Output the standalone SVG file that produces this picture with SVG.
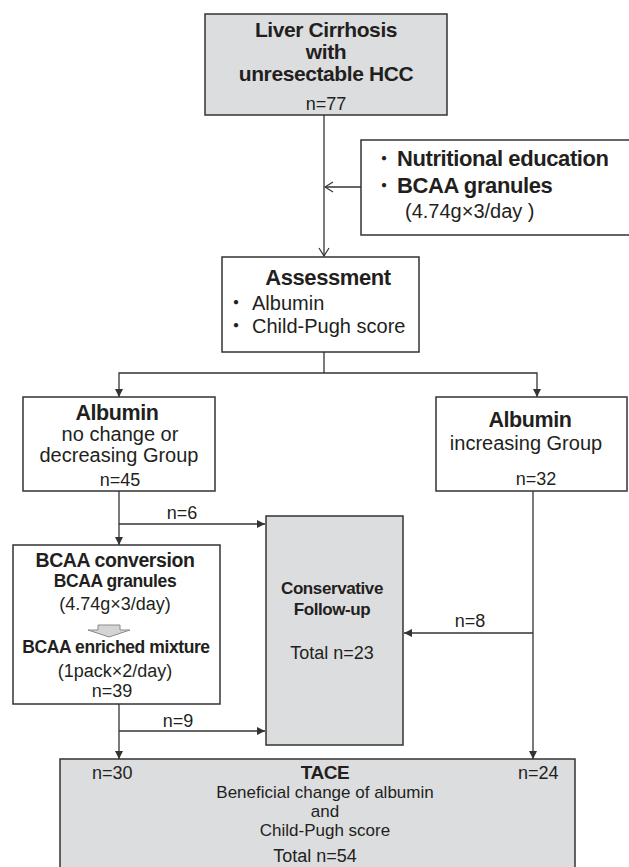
<svg xmlns="http://www.w3.org/2000/svg" width="629" height="867" viewBox="0 0 629 867">
<defs>
<style>
.box{fill:#ffffff;stroke:#333333;stroke-width:1.5}
.gbox{fill:#dcdddf;stroke:#333333;stroke-width:1.5}
.t{font-family:"Liberation Sans","Noto Sans CJK JP",Arial,sans-serif;fill:#231f20}
.b{font-weight:bold;letter-spacing:-0.4px}
.c{text-anchor:middle}
.ln{fill:none;stroke:#333333;stroke-width:1.3}
</style>
<marker id="arr" markerUnits="userSpaceOnUse" markerWidth="8" markerHeight="8" refX="8" refY="4" orient="auto">
<path d="M0,0 L8,4 L0,8 z" fill="#333333"/>
</marker>
<marker id="open" markerUnits="userSpaceOnUse" markerWidth="10" markerHeight="12" refX="9" refY="6" orient="auto">
<path d="M1,1 L9,6 L1,11" fill="none" stroke="#333333" stroke-width="1.2"/>
</marker>
</defs>

<g id="connectors">
<path class="ln" d="M324,115 V256" marker-end="url(#open)"/>
<path class="ln" d="M361,187 H325" marker-end="url(#open)"/>
<path class="ln" d="M324,352 V373"/>
<path class="ln" d="M324,373 H119 V397" marker-end="url(#arr)"/>
<path class="ln" d="M324,373 H537 V397" marker-end="url(#arr)"/>
<path class="ln" d="M119,491 V545" marker-end="url(#arr)"/>
<path class="ln" d="M119,524 H265" marker-end="url(#arr)"/>
<path class="ln" d="M533,491 V759" marker-end="url(#arr)"/>
<path class="ln" d="M533,633 H404" marker-end="url(#arr)"/>
<path class="ln" d="M119,704 V759" marker-end="url(#arr)"/>
<path class="ln" d="M119,731 H265" marker-end="url(#arr)"/>
<text class="t c" x="182" y="519" font-size="18">n=6</text>
<text class="t c" x="470" y="627" font-size="18">n=8</text>
<text class="t c" x="178" y="727" font-size="18">n=9</text>
</g>

<g id="start">
<rect class="gbox" x="205" y="14" width="242" height="101"/>
<text class="t b c" x="326" y="37" font-size="21">Liver Cirrhosis</text>
<text class="t b c" x="326" y="59" font-size="21">with</text>
<text class="t b c" x="326" y="81" font-size="21">unresectable HCC</text>
<text class="t c" x="326" y="110" font-size="18">n=77</text>
</g>

<g id="nutrition">
<rect class="box" x="361" y="140" width="272" height="95"/>
<text class="t" x="374" y="166" font-size="20">・</text>
<text class="t b" x="397" y="166" font-size="22">Nutritional education</text>
<text class="t" x="374" y="193" font-size="20">・</text>
<text class="t b" x="397" y="193" font-size="22">BCAA granules</text>
<text class="t" x="405" y="218" font-size="20">(4.74g×3/day )</text>
</g>

<g id="assessment">
<rect class="box" x="222" y="257" width="197" height="95"/>
<text class="t b c" x="328" y="285" font-size="22">Assessment</text>
<text class="t" x="226" y="310" font-size="20">・</text>
<text class="t" x="252" y="310" font-size="20">Albumin</text>
<text class="t" x="226" y="333" font-size="20">・</text>
<text class="t" x="252" y="333" font-size="20">Child-Pugh score</text>
</g>

<g id="albumin-nochange">
<rect class="box" x="23" y="397" width="192" height="94"/>
<text class="t b c" x="117" y="420" font-size="21.5">Albumin</text>
<text class="t c" x="120" y="441" font-size="20">no change or</text>
<text class="t c" x="119" y="462" font-size="20">decreasing Group</text>
<text class="t c" x="120" y="486" font-size="18">n=45</text>
</g>

<g id="albumin-increasing">
<rect class="box" x="436" y="397" width="191" height="94"/>
<text class="t b c" x="530" y="427" font-size="21.5">Albumin</text>
<text class="t c" x="526" y="450" font-size="20">increasing Group</text>
<text class="t c" x="536" y="485" font-size="18">n=32</text>
</g>

<g id="bcaa-conversion">
<rect class="box" x="13" y="545" width="207" height="159"/>
<text class="t b c" x="115" y="567" font-size="19.5">BCAA conversion</text>
<text class="t b c" x="115" y="587" font-size="17.5">BCAA granules</text>
<text class="t c" x="115" y="610" font-size="18">(4.74g×3/day)</text>
<polygon points="98,625 120,625 120,630 130,630 109,637 88,630 98,630" fill="#d4d4d4" stroke="#8a8a8a" stroke-width="1"/>
<text class="t b c" x="116" y="653" font-size="17.5">BCAA enriched mixture</text>
<text class="t c" x="115" y="677" font-size="18">(1pack×2/day)</text>
<text class="t c" x="112" y="697" font-size="18">n=39</text>
</g>

<g id="conservative">
<rect class="gbox" x="266" y="516" width="137" height="229"/>
<text class="t b c" x="332" y="594" font-size="17">Conservative</text>
<text class="t b c" x="332" y="615" font-size="17">Follow-up</text>
<text class="t c" x="332" y="659" font-size="18">Total n=23</text>
</g>

<g id="tace">
<rect class="gbox" x="60" y="759" width="515" height="120"/>
<text class="t" x="92" y="779" font-size="18">n=30</text>
<text class="t" x="518" y="779" font-size="18">n=24</text>
<text class="t b c" x="325" y="779" font-size="19">TACE</text>
<text class="t c" x="325" y="798" font-size="17">Beneficial change of albumin</text>
<text class="t c" x="325" y="817" font-size="17">and</text>
<text class="t c" x="325" y="836" font-size="17">Child-Pugh score</text>
<text class="t c" x="315" y="862" font-size="18">Total  n=54</text>
</g>
</svg>
